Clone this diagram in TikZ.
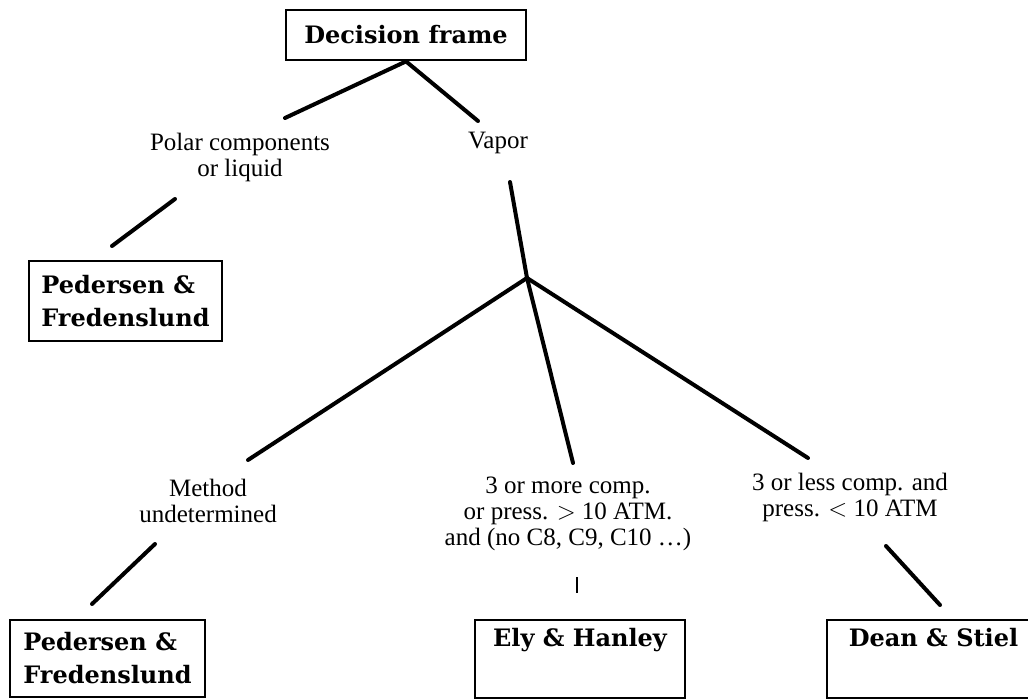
\documentclass[tikz,border=0pt]{standalone}
\usepackage{fontspec}
\setmainfont{Liberation Serif}
\newfontfamily\boxfont{DejaVu Serif}
\begin{document}
\begin{tikzpicture}[x=1pt,y=-1pt,
  box/.style={draw, line width=2.8pt, inner sep=0pt,
    font=\boxfont\bfseries\fontsize{24}{33}\selectfont},
  lbl/.style={align=center, inner sep=0pt, font=\fontsize{25}{26}\selectfont},
  link/.style={line width=4pt, line cap=round},
  tick/.style={line width=2.6pt}]
\useasboundingbox (0,0) rectangle (1028,700);
\clip (0,0) rectangle (1028,700);

% boxes (methods)
\node[box, minimum width=240pt, minimum height=50pt] (decision) at (406,35) {Decision frame};
\node[box, align=left, minimum width=193pt, minimum height=80pt] (ped1) at (125.5,301) {Pedersen \&\\Fredenslund};
\node[box, align=left, minimum width=195pt, minimum height=77pt] (ped2) at (107.5,658.5) {Pedersen \&\\Fredenslund};
\node[box, align=center, minimum width=210pt, minimum height=78pt] (ely) at (580,659) {Ely \& Hanley\\\strut};
\node[box, align=center, minimum width=213pt, minimum height=78pt] (dean) at (933.5,659) {Dean \& Stiel\\\strut};

% branch conditions
\node[lbl] (polar) at (240,157) {Polar components\\or liquid};
\node[lbl] (vapor) at (498,143) {Vapor};
\node[lbl] (method) at (208,501) {Method\\undetermined};
\node[lbl] (more) at (568,514) {3 or more comp.\\or press. $>$ 10 ATM.\\and (no C8, C9, C10 \dots)};
\node[lbl] (less) at (850,497) {3 or less comp. and\\press. $<$ 10 ATM};

% connector end points
\coordinate (polarTop) at (285,118);
\coordinate (vaporTop) at (478,121);
\coordinate (polarFoot) at (175,199);
\coordinate (ped1Top) at (112,246);
\coordinate (vaporFoot) at (510,182);
\coordinate (fork) at (527,278);
\coordinate (methodTop) at (248,460);
\coordinate (moreTop) at (573,463);
\coordinate (lessTop) at (808,458);
\coordinate (methodFoot) at (155,544);
\coordinate (ped2Top) at (92,604);
\coordinate (moreFoot) at (577,577);
\coordinate (elyTop) at (577,593);
\coordinate (lessFoot) at (886,546);
\coordinate (deanTop) at (940,605);

% connectors
\draw[link] (decision.south) -- (polarTop);
\draw[link] (decision.south) -- (vaporTop);
\draw[link] (polarFoot) -- (ped1Top);
\draw[link] (vaporFoot) -- (fork);
\draw[link] (fork) -- (methodTop);
\draw[link] (fork) -- (moreTop);
\draw[link] (fork) -- (lessTop);
\draw[link] (methodFoot) -- (ped2Top);
\draw[tick] (moreFoot) -- (elyTop);
\draw[link] (lessFoot) -- (deanTop);
\end{tikzpicture}
\end{document}
